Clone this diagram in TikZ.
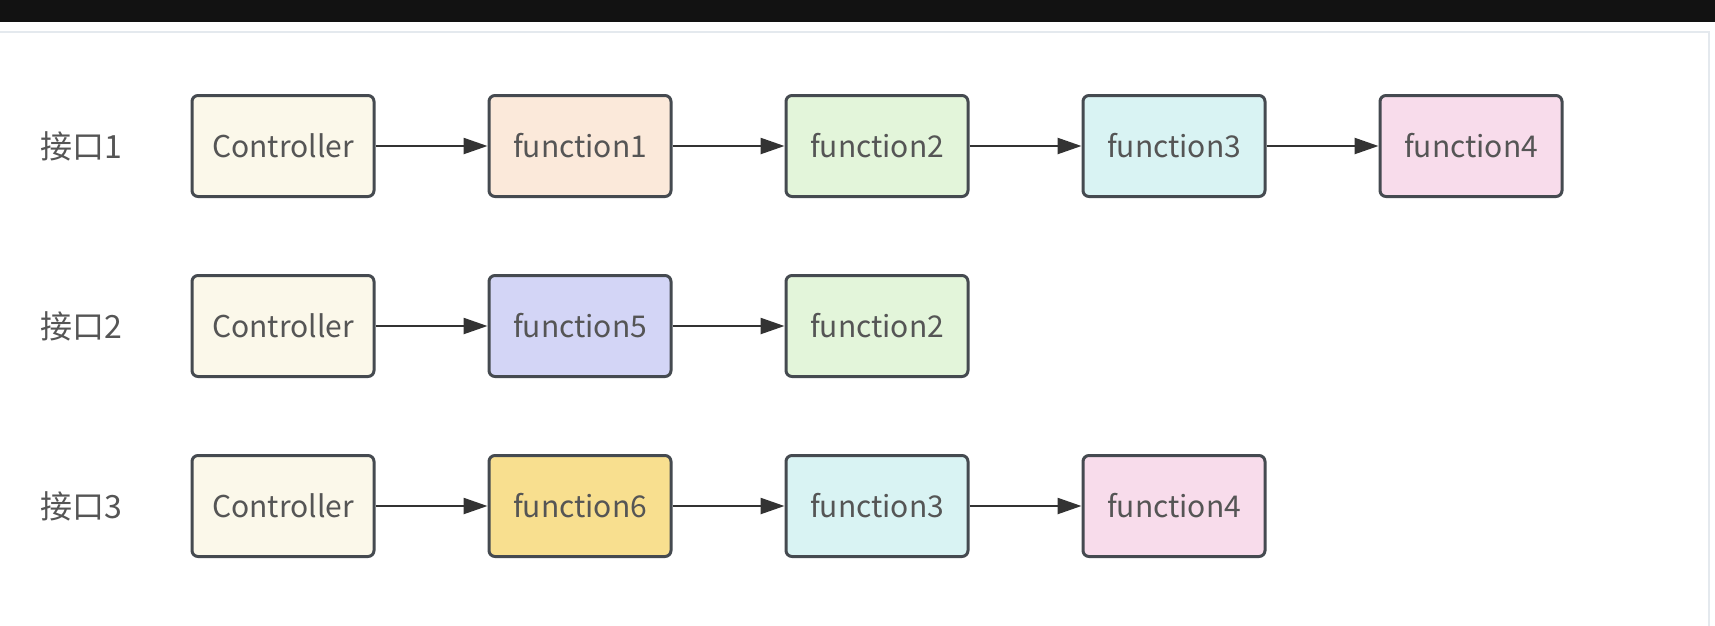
\documentclass[tikz,border=0pt]{standalone}
\usepackage{fontspec}
\setmainfont{Noto Sans CJK SC}
\usetikzlibrary{arrows.meta}
\definecolor{txt}{HTML}{555555}
\definecolor{edge}{HTML}{454A50}
\definecolor{arr}{HTML}{333333}
\definecolor{cctrl}{HTML}{FBF8EA}
\definecolor{cfa}{HTML}{FBE9DA}
\definecolor{cfb}{HTML}{E3F5DA}
\definecolor{cfc}{HTML}{D9F3F3}
\definecolor{cfd}{HTML}{F8DCEB}
\definecolor{cfe}{HTML}{D3D5F6}
\definecolor{cff}{HTML}{F8DF8F}
\definecolor{panelline}{HTML}{E4E9EE}
\tikzset{
  box/.style={draw=edge, line width=3pt, rounded corners=6pt, minimum width=182pt, minimum height=101pt, inner sep=0pt, text=txt, font=\fontsize{30}{34}\selectfont},
  lbl/.style={anchor=west, text=txt, inner sep=0pt, font=\fontsize{32}{36}\selectfont},
  conn/.style={draw=arr, line width=2.4pt, -{Triangle[length=24pt,width=16pt]}}
}
\begin{document}
\begin{tikzpicture}[x=1pt,y=-1pt]
\useasboundingbox (0,0) rectangle (1715,625);
\fill[white] (0,0) rectangle (1715,625);
\fill[black!93] (0,0) rectangle (1715,22);
\draw[panelline, line width=2pt] (-5,32) -- (1709,32) -- (1709,630);
% row 1
\node[lbl] (l1) at (40,146) {接口1};
\node[box, fill=cctrl] (c1) at (283,146) {Controller};
\node[box, fill=cfa] (f1) at (580,146) {function1};
\node[box, fill=cfb] (f2a) at (877,146) {function2};
\node[box, fill=cfc] (f3a) at (1174,146) {function3};
\node[box, fill=cfd] (f4a) at (1471,146) {function4};
\draw[conn] (c1) -- (f1);
\draw[conn] (f1) -- (f2a);
\draw[conn] (f2a) -- (f3a);
\draw[conn] (f3a) -- (f4a);
% row 2
\node[lbl] (l2) at (40,326) {接口2};
\node[box, fill=cctrl] (c2) at (283,326) {Controller};
\node[box, fill=cfe] (f5) at (580,326) {function5};
\node[box, fill=cfb] (f2b) at (877,326) {function2};
\draw[conn] (c2) -- (f5);
\draw[conn] (f5) -- (f2b);
% row 3
\node[lbl] (l3) at (40,506) {接口3};
\node[box, fill=cctrl] (c3) at (283,506) {Controller};
\node[box, fill=cff] (f6) at (580,506) {function6};
\node[box, fill=cfc] (f3b) at (877,506) {function3};
\node[box, fill=cfd] (f4b) at (1174,506) {function4};
\draw[conn] (c3) -- (f6);
\draw[conn] (f6) -- (f3b);
\draw[conn] (f3b) -- (f4b);
\end{tikzpicture}
\end{document}
